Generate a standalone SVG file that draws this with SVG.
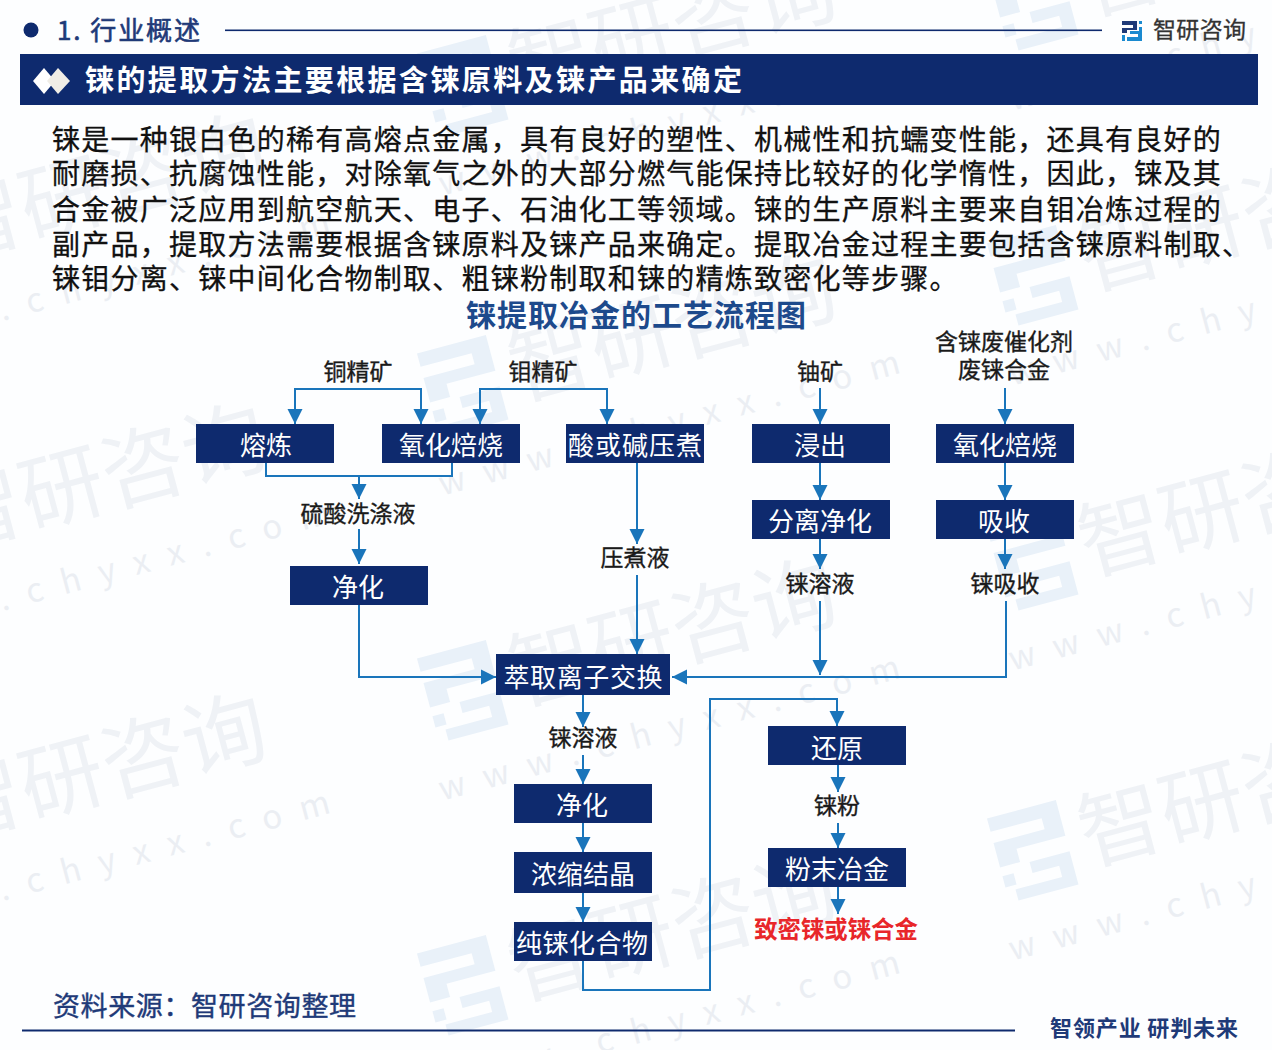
<svg xmlns="http://www.w3.org/2000/svg" xmlns:xlink="http://www.w3.org/1999/xlink" width="1272" height="1050" viewBox="0 0 1272 1050">
<style>
text{font-family:"Noto Sans CJK SC","Noto Sans",sans-serif}
.n{fill:#0e2a6e}
.nt{fill:#fff;font-size:26px;text-anchor:middle}
.l{fill:#1a1a1a;font-size:23px;text-anchor:middle;stroke:#1a1a1a;stroke-width:.35px}
.c{fill:none;stroke:#1a75bb;stroke-width:2}
.a{marker-end:url(#ah)}
.b{fill:#111;font-size:28px;letter-spacing:1.25px;stroke:#111;stroke-width:.3px}
.wm{fill:#eff2f6;font-size:84px}
.wu{fill:#ebeef3;font-size:33px;letter-spacing:19px}
.wl{fill:#e9f1f9}
</style>
<defs>
<marker id="ah" markerUnits="userSpaceOnUse" markerWidth="18" markerHeight="18" refX="15" refY="9" orient="auto"><path d="M0 1.5L15 9L0 16.5Z" fill="#1a75bb"/></marker>
<g id="wt">
<path class="wl" d="M0 0H62V32H18V44H0V34H0V22H46V12H0ZM0 52H10V62H0ZM26 46H62V76H8V66H50V56H26Z" transform="scale(1.15) translate(-10,-40)"/>
<text class="wm" x="74" y="25">智研咨询</text>
<text class="wu" x="-24" y="98">www.chyxx.com</text>
</g>
</defs>
<rect width="1272" height="1050" fill="#fdfeff"/>
<g id="watermark">
<use xlink:href="#wt" transform="translate(-130,545) rotate(-15)"/>
<use xlink:href="#wt" transform="translate(-130,835) rotate(-15)"/>
<use xlink:href="#wt" transform="translate(-130,255) rotate(-15)"/>
<use xlink:href="#wt" transform="translate(440,95) rotate(-15)"/>
<use xlink:href="#wt" transform="translate(440,395) rotate(-15)"/>
<use xlink:href="#wt" transform="translate(440,700) rotate(-15)"/>
<use xlink:href="#wt" transform="translate(440,995) rotate(-15)"/>
<use xlink:href="#wt" transform="translate(1010,285) rotate(-15)"/>
<use xlink:href="#wt" transform="translate(1010,570) rotate(-15)"/>
<use xlink:href="#wt" transform="translate(1010,860) rotate(-15)"/>
<use xlink:href="#wt" transform="translate(1010,10) rotate(-15)"/>
</g>
<g id="header">
<circle cx="31" cy="30" r="7.5" fill="#0e2a6e"/>
<text x="57" y="40" font-size="26" fill="#1f3a78" stroke="#1f3a78" stroke-width=".6" textLength="143">1. 行业概述</text>
<rect x="225" y="29.5" width="877" height="1.6" fill="#0e2a6e"/>
<g id="brand-logo">
<path d="M1122 21H1137V30H1127V33H1122V28H1133V25H1122Z" fill="#1f3a78"/>
<path d="M1139 21H1142V24H1139ZM1122 35H1125V41H1122ZM1139 27H1142V41H1127V37H1138V34H1130V31H1139Z" fill="#1a8ad0"/>
</g>
<text x="1153" y="38" font-size="23" fill="#333" stroke="#333" stroke-width=".3" textLength="93">智研咨询</text>
</g>
<g id="banner">
<rect x="20" y="54" width="1238" height="51" fill="#0e2a6e"/>
<path d="M33 81L44 68L55 81L44 94Z" fill="#fff"/>
<path d="M47 81L58 68L70 81L58 94Z" fill="#f0ede6"/>
<text x="85" y="91" font-size="29" font-weight="700" fill="#fff" textLength="657">铼的提取方法主要根据含铼原料及铼产品来确定</text>
</g>
<g id="body">
<text class="b" x="52" y="150">铼是一种银白色的稀有高熔点金属，具有良好的塑性、机械性和抗蠕变性能，还具有良好的</text>
<text class="b" x="52" y="184">耐磨损、抗腐蚀性能，对除氧气之外的大部分燃气能保持比较好的化学惰性，因此，铼及其</text>
<text class="b" x="52" y="220">合金被广泛应用到航空航天、电子、石油化工等领域。铼的生产原料主要来自钼冶炼过程的</text>
<text class="b" x="52" y="255">副产品，提取方法需要根据含铼原料及铼产品来确定。提取冶金过程主要包括含铼原料制取、</text>
<text class="b" x="52" y="289">铼钼分离、铼中间化合物制取、粗铼粉制取和铼的精炼致密化等步骤。</text>
</g>
<text id="chart-title" x="466" y="326" font-size="30" font-weight="700" fill="#1d4a8c" textLength="340">铼提取冶金的工艺流程图</text>
<g id="connectors">
<path class="c a" d="M421 389H295V424"/>
<path class="c a" d="M295 389H421V424"/>
<path class="c a" d="M607 389H480V424"/>
<path class="c a" d="M480 389H607V424"/>
<path class="c" d="M266 463V476H452V463"/>
<path class="c a" d="M359 476V499"/>
<path class="c a" d="M359 529V564"/>
<path class="c a" d="M637 463V544"/>
<path class="c a" d="M637 575V654"/>
<path class="c a" d="M359 605V677H496"/>
<path class="c a" d="M1006 601V677H672"/>
<path class="c a" d="M820 601V675"/>
<path class="c a" d="M820 388V424"/>
<path class="c a" d="M820 463V500"/>
<path class="c a" d="M820 539V569"/>
<path class="c a" d="M1005 388V424"/>
<path class="c a" d="M1005 463V500"/>
<path class="c a" d="M1005 539V569"/>
<path class="c a" d="M583 695V727"/>
<path class="c a" d="M583 755V784"/>
<path class="c a" d="M583 823V852"/>
<path class="c a" d="M583 892V922"/>
<path class="c a" d="M583 961V990H710V699H837V726"/>
<path class="c a" d="M838 765V792"/>
<path class="c a" d="M838 823V848"/>
<path class="c a" d="M838 887V914"/>
</g>
<g id="n-rl"><rect class="n" x="196" y="424" width="138" height="39"/><text class="nt" x="266" y="455">熔炼</text></g>
<g id="n-yh1"><rect class="n" x="382" y="424" width="138" height="39"/><text class="nt" x="451" y="455">氧化焙烧</text></g>
<g id="n-sj"><rect class="n" x="566" y="424" width="138" height="39"/><text class="nt" x="635" y="455" textLength="134">酸或碱压煮</text></g>
<g id="n-jc"><rect class="n" x="752" y="424" width="138" height="39"/><text class="nt" x="820" y="455">浸出</text></g>
<g id="n-fl"><rect class="n" x="752" y="500" width="138" height="39"/><text class="nt" x="820" y="531">分离净化</text></g>
<g id="n-yh2"><rect class="n" x="936" y="424" width="138" height="39"/><text class="nt" x="1005" y="455">氧化焙烧</text></g>
<g id="n-xs"><rect class="n" x="936" y="500" width="138" height="39"/><text class="nt" x="1004" y="531">吸收</text></g>
<g id="n-jh1"><rect class="n" x="290" y="566" width="138" height="39"/><text class="nt" x="358" y="597">净化</text></g>
<g id="n-cq"><rect class="n" x="496" y="654" width="174" height="41"/><text class="nt" x="583" y="687" textLength="159">萃取离子交换</text></g>
<g id="n-jh2"><rect class="n" x="514" y="784" width="138" height="39"/><text class="nt" x="582" y="815">净化</text></g>
<g id="n-ns"><rect class="n" x="514" y="852" width="138" height="41"/><text class="nt" x="583" y="884">浓缩结晶</text></g>
<g id="n-cr"><rect class="n" x="514" y="922" width="138" height="39"/><text class="nt" x="582" y="953" textLength="132">纯铼化合物</text></g>
<g id="n-hy"><rect class="n" x="768" y="726" width="138" height="39"/><text class="nt" x="837" y="758">还原</text></g>
<g id="n-fm"><rect class="n" x="768" y="848" width="138" height="39"/><text class="nt" x="837" y="879">粉末冶金</text></g>
<g id="labels">
<text class="l" x="358" y="380">铜精矿</text>
<text class="l" x="543" y="380">钼精矿</text>
<text class="l" x="820" y="380">铀矿</text>
<text class="l" x="1004" y="350">含铼废催化剂</text>
<text class="l" x="1004" y="378">废铼合金</text>
<text class="l" x="358" y="522">硫酸洗涤液</text>
<text class="l" x="635" y="566">压煮液</text>
<text class="l" x="820" y="592">铼溶液</text>
<text class="l" x="1005" y="592">铼吸收</text>
<text class="l" x="583" y="746">铼溶液</text>
<text class="l" x="837" y="814">铼粉</text>
<text x="836" y="938" font-size="23.4" font-weight="700" text-anchor="middle" fill="#e8262a">致密铼或铼合金</text>
</g>
<g id="footer">
<text x="53" y="1016" font-size="27" fill="#1f3a78" stroke="#1f3a78" stroke-width=".4" textLength="303">资料来源：智研咨询整理</text>
<rect x="22" y="1029.5" width="993" height="2" fill="#0e2a6e"/>
<text x="1050" y="1036" font-size="22" font-weight="700" fill="#1f3a78" textLength="188">智领产业 研判未来</text>
</g>
</svg>
